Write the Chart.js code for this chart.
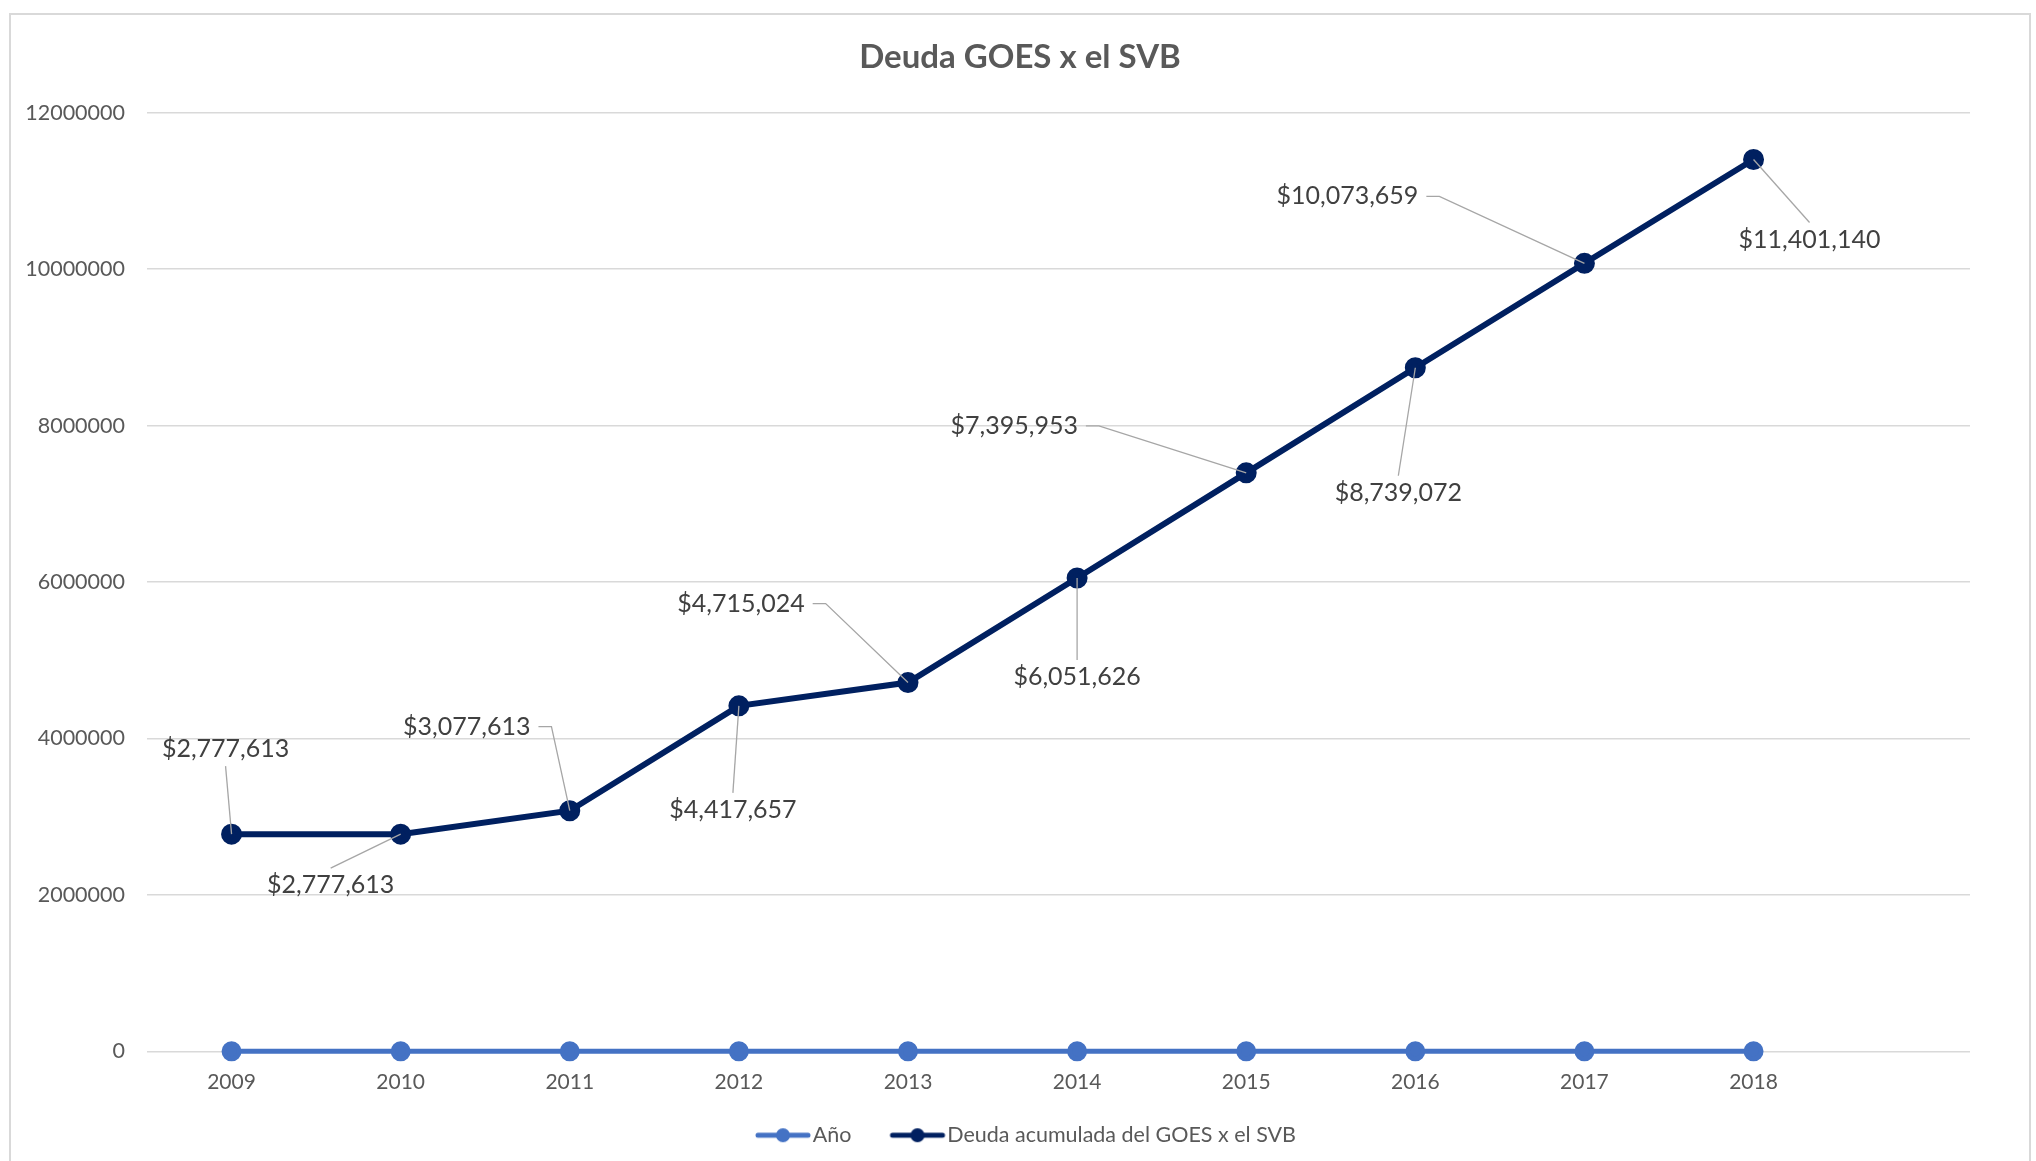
<!DOCTYPE html>
<html>
<head>
<meta charset="utf-8">
<script src="https://cdn.jsdelivr.net/npm/chart.js@4"></script>
<style>
  html, body { margin: 0; padding: 0; background: #fff; overflow: hidden; }
  #frame { position: absolute; left: 9px; top: 13px; width: 2022px; height: 1170px; border: 2px solid #d9d9d9; box-sizing: border-box; }
  #myChart { position: absolute; left: 9px; top: 13px; }
</style>
</head>
<body>
<div id="frame"></div>
<canvas id="myChart" width="2022" height="1148"></canvas>
<script>
const years = [2009, 2010, 2011, 2012, 2013, 2014, 2015, 2016, 2017, 2018];
// the "Año" series holds the year numbers themselves, so it sits on the zero line
const anoValues = [2009, 2010, 2011, 2012, 2013, 2014, 2015, 2016, 2017, 2018];
const deuda = [2777613, 2777613, 3077613, 4417657, 4715024, 6051626, 7395953, 8739072, 10073659, 11401140];
const yTicks = [0, 2000000, 4000000, 6000000, 8000000, 10000000, 12000000];

// where each data label sits, relative to its point (px)
const labelOffsets = [[-6, -85], [-70, 51], [-103, -84], [-6, 104], [-167, -79],
                      [0, 99], [-232, -47], [-17, 125], [-237, -67], [56, 80]];

const FONT = 'Lato, "Open Sans", sans-serif';
const BLUE = '#4472C4';
const NAVY = '#002060';

// legend symbol: line with a dot, drawn off-centre so it sits close to its text
function legendMarker(color, lw, r) {
  const c = document.createElement('canvas');
  c.width = 80; c.height = 20;
  const g = c.getContext('2d');
  g.strokeStyle = color; g.lineWidth = lw; g.lineCap = 'round';
  g.beginPath(); g.moveTo(25, 10); g.lineTo(75, 10); g.stroke();
  g.fillStyle = color;
  g.beginPath(); g.arc(50, 10, r, 0, Math.PI * 2); g.fill();
  return c;
}
const markers = [legendMarker(BLUE, 5, 7), legendMarker(NAVY, 5, 7)];

// Excel-style data labels with grey leader lines
const leaderLabels = {
  id: 'leaderLabels',
  afterDatasetsDraw(chart) {
    const meta = chart.getDatasetMeta(1);
    const ctx = chart.ctx;
    ctx.save();
    ctx.font = '25px ' + FONT;
    meta.data.forEach((pt, i) => {
      const text = '$' + deuda[i].toLocaleString('en-US');
      const w = ctx.measureText(text).width;
      const [dx, dy] = labelOffsets[i];
      const lx = pt.x + dx, ly = pt.y + dy;
      ctx.strokeStyle = '#a6a6a6';
      ctx.lineWidth = 1.3;
      ctx.beginPath();
      if (Math.abs(dx) > w / 2 + 20) {
        const sx = dx < 0 ? lx + w / 2 + 8 : lx - w / 2 - 8;
        const hx = dx < 0 ? sx + 13 : sx - 13;
        ctx.moveTo(sx, ly); ctx.lineTo(hx, ly); ctx.lineTo(pt.x, pt.y);
      } else {
        const sy = dy > 0 ? ly - 17 : ly + 17;
        ctx.moveTo(lx, sy); ctx.lineTo(pt.x, pt.y);
      }
      ctx.stroke();
      ctx.fillStyle = '#404040';
      ctx.textAlign = 'center';
      ctx.textBaseline = 'middle';
      ctx.fillText(text, lx, ly);
    });
    ctx.restore();
  }
};

const data = {
  datasets: [
    {
      label: 'Año',
      data: years.map((x, i) => ({ x: x, y: anoValues[i] })),
      borderColor: BLUE,
      backgroundColor: BLUE,
      borderWidth: 5,
      pointRadius: 7.5,
      pointHoverRadius: 7.5,
      pointBackgroundColor: BLUE,
      pointBorderColor: BLUE,
      clip: false,
    },
    {
      label: 'Deuda acumulada del GOES x el SVB',
      data: years.map((x, i) => ({ x: x, y: deuda[i] })),
      borderColor: NAVY,
      backgroundColor: NAVY,
      borderWidth: 6,
      pointRadius: 7.5,
      pointHoverRadius: 7.5,
      pointBackgroundColor: NAVY,
      pointBorderColor: NAVY,
      clip: false,
    },
  ],
};

const config = {
  type: 'line',
  data: data,
  plugins: [leaderLabels],
  options: {
    responsive: false,
    animation: false,
    layout: { padding: { top: 0, right: 0, left: 0, bottom: 5 } },
    plugins: {
      title: {
        display: true,
        text: 'Deuda GOES x el SVB',
        color: '#595959',
        font: { size: 33, weight: 'bold', family: FONT },
        padding: { top: 25, bottom: 35 },
      },
      legend: {
        position: 'bottom',
        labels: {
          usePointStyle: true,
          pointStyleWidth: 58,
          padding: 27,
          color: '#595959',
          font: { size: 21.5, family: FONT },
          generateLabels: (chart) => chart.data.datasets.map((ds, i) => ({
            text: ds.label,
            pointStyle: markers[i],
            fillStyle: ds.borderColor,
            strokeStyle: ds.borderColor,
            lineWidth: 0,
            hidden: false,
            datasetIndex: i,
            fontColor: '#595959',
          })),
        },
      },
      tooltip: { enabled: false },
    },
    scales: {
      x: {
        type: 'linear',
        min: 2008.5,
        max: 2019.28,
        grid: { display: false, drawTicks: false },
        border: { display: false },
        afterBuildTicks: (s) => { s.ticks = years.map((v) => ({ value: v })); },
        ticks: { callback: (v) => String(v), color: '#595959', font: { size: 21, family: FONT }, padding: 18.5, autoSkip: false, maxRotation: 0 },
        afterFit: (s) => { s.height = 46; },
      },
      y: {
        min: 0,
        max: 12000000,
        afterBuildTicks: (s) => { s.ticks = yTicks.map((v) => ({ value: v })); },
        grid: { color: '#d9d9d9', lineWidth: 1.5, drawTicks: false },
        border: { display: false },
        ticks: { callback: (v) => String(v), color: '#595959', font: { size: 21.5, family: FONT }, padding: 22 },
        afterFit: (s) => { s.width = 138; },
      },
      // empty right-hand axis, only reserves the blank space right of the plot
      yRight: {
        position: 'right',
        grid: { display: false, drawTicks: false },
        border: { display: false },
        ticks: { display: false },
        afterFit: (s) => { s.width = 61; },
      },
    },
  },
};

const myChart = new Chart(document.getElementById('myChart'), config);
</script>
</body>
</html>
